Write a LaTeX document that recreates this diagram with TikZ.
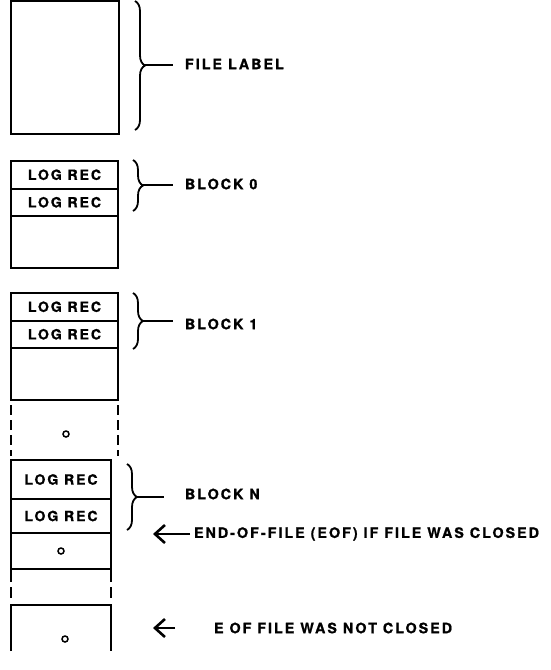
\documentclass[tikz,border=0pt]{standalone}
\usepackage{fontspec}
\newfontfamily\lblfont[LetterSpace=14, BoldFeatures={FakeBold=1.2}]{TeX Gyre Heros}
\usepackage{tikz}
\usetikzlibrary{arrows.meta,positioning,decorations.pathreplacing}

\begin{document}
\begin{tikzpicture}[
    x=1pt, y=-1pt,
    line width=2pt,
    box/.style={draw, rectangle, outer sep=0pt, inner sep=0pt, minimum width=107pt},
    rec/.style={box, minimum height=27.5pt, font={\lblfont\bfseries\fontsize{14}{16}\selectfont}},
    leer/.style={box, minimum height=52pt},
    lbl/.style={anchor=west, inner sep=0pt, font={\lblfont\bfseries\fontsize{14.3}{17}\selectfont}},
    klammer/.style={decorate, decoration={brace, amplitude=10pt}, line width=1.8pt},
    pfeil/.style={-{Straight Barb[length=10pt, width=18pt, line width=2.6pt]}, line width=2.6pt},
    punkt/.style={circle, draw, line width=1.5pt, minimum size=6pt, inner sep=0pt}
]
\useasboundingbox (0,0) rectangle (551,670);

% Dateikennsatz
\node[box, minimum width=108pt, minimum height=133pt, anchor=north west] (flab) at (11,1) {};

% Block 0
\node[rec, anchor=north west] (r01) at (11,161) {LOG REC};
\node[rec, below=0pt of r01] (r02) {LOG REC};
\node[leer, below=0pt of r02] (e0) {};

% Block 1
\node[rec, anchor=north west] (r11) at (11,293) {LOG REC};
\node[rec, below=0pt of r11] (r12) {LOG REC};
\node[leer, below=0pt of r12] (e1) {};

% Luecke
\draw[dash pattern=on 10pt off 5pt, shorten <=5pt, shorten >=4pt] (e1.south west) -- (e1.south west |- 0,460);
\draw[dash pattern=on 10pt off 5pt, shorten <=5pt, shorten >=4pt] (e1.south east) -- (e1.south east |- 0,460);
\node[punkt] (p1) at (66,434) {};

% Block N
\node[rec, minimum width=100pt, minimum height=39pt, anchor=north west] (rn1) at (11,460) {LOG REC};
\node[rec, minimum width=100pt, minimum height=34pt, below=0pt of rn1] (rn2) {LOG REC};
\node[box, minimum width=100pt, minimum height=36pt, below=0pt of rn2] (en) {};
\node[punkt] (p2) at (en) {};

% letzter Block, unten offen
\node[minimum width=100pt, minimum height=46pt, outer sep=0pt, anchor=north west] (letzt) at (11,605) {};
\draw (letzt.south west) -- (letzt.north west) -- (letzt.north east) -- (letzt.south east);
\node[punkt] (p3) at (65,639) {};
\draw[dash pattern=on 13pt off 5pt on 11pt off 20pt] (en.south west) -- (letzt.north west);
\draw[dash pattern=on 13pt off 5pt on 11pt off 20pt] (en.south east) -- (letzt.north east);

% Beschriftungen
\node[lbl] (tflab) at (184,64) {FILE LABEL};
\node[lbl] (tb0) at (184,184) {BLOCK 0};
\node[lbl] (tb1) at (184,324) {BLOCK 1};
\node[lbl] (tbn) at (184,494) {BLOCK N};
\node[lbl] (teof) at (193,534) {END-OF-FILE (EOF) IF FILE WAS CLOSED};
\node[lbl] (tnc) at (213,628) {E OF FILE WAS NOT CLOSED};

% Klammern
\draw[klammer] (135,1) -- (135,130);
\draw[klammer] (133,160) -- (133,211);
\draw[klammer] (133,293) -- (133,349);
\draw[klammer] (127,464) -- (127,530);
\coordinate (kf) at (145,65);
\coordinate (k0) at (143,185);
\coordinate (k1) at (143,321);
\coordinate (kn) at (137,497);
\draw[line width=2.4pt, shorten >=11pt] (kf) -- (tflab.west |- kf);
\draw[line width=2.4pt, shorten >=11pt] (k0) -- (tb0.west |- k0);
\draw[line width=2.4pt, shorten >=11pt] (k1) -- (tb1.west |- k1);
\draw[line width=2.4pt, shorten >=20pt] (kn) -- (tbn.west |- kn);

% Pfeile
\coordinate (eofpt) at (153,534);
\coordinate (ncpt) at (153,628);
\draw[pfeil, shorten <=3pt] (teof.west) -- (eofpt);
\draw[pfeil, shorten <=38pt] (tnc.west) -- (ncpt);
\end{tikzpicture}
\end{document}
